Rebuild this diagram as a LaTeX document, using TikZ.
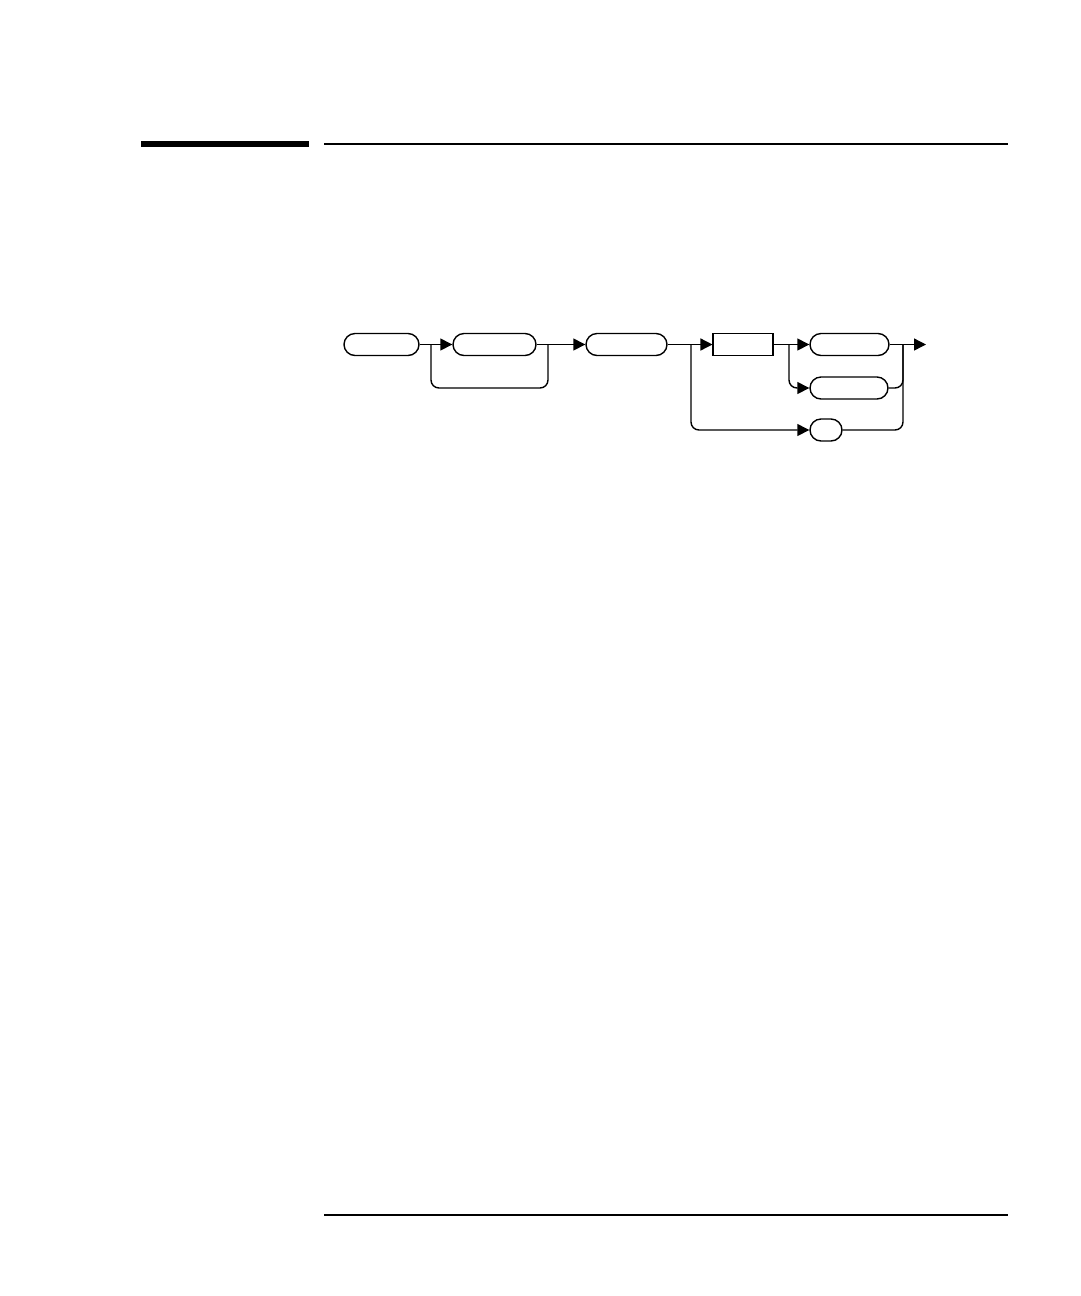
\documentclass[tikz,border=0pt]{standalone}
\usetikzlibrary{arrows.meta}
\tikzset{
  term/.style={draw, rounded corners=0.22cm, minimum height=0.44cm, inner sep=0pt, line width=0.8pt},
  nonterm/.style={draw, minimum height=0.44cm, inner sep=0pt, line width=0.6pt},
  path/.style={line width=0.8pt, rounded corners=0.16cm},
  go/.style={path, -{Triangle[length=0.24cm,width=0.24cm]}}
}
\begin{document}
\begin{tikzpicture}[x=0.02cm,y=-0.02cm]
\useasboundingbox (0,0) rectangle (1080,1296);
% page rules
\fill (141,141) rectangle (309,147);
\draw[line width=0.04cm] (324,144)--(1008,144);
\draw[line width=0.04cm] (324,1214.5)--(1008,1214.5);
% syntax boxes
\node[term, minimum width=1.5cm] (cmd) at (381.5,344.5) {};
\node[term, minimum width=1.66cm] (sep) at (494.5,344.5) {};
\node[term, minimum width=1.62cm] (key) at (626.5,344.5) {};
\node[nonterm, minimum width=1.2cm] (val) at (743,344.5) {};
\node[term, minimum width=1.58cm] (unitA) at (849.5,344.5) {};
\node[term, minimum width=1.56cm] (unitB) at (849,388) {};
\node[term, minimum width=0.64cm] (query) at (826,430) {};
% junctions
\coordinate (j1) at (431,344.5);
\coordinate (j2) at (548,344.5);
\coordinate (j3) at (691,344.5);
\coordinate (j4) at (789,344.5);
\coordinate (j5) at (903,344.5);
\coordinate (out) at (926,344.5);
% connectors
\draw[go] (cmd.east)--(sep.west);
\draw[path] (j1)--++(0,43.5)-|(j2);
\draw[go] (sep.east)--(key.west);
\draw[go] (key.east)--(val.west);
\draw[go] (j3)|-(query.west);
\draw[go] (val.east)--(unitA.west);
\draw[go] (j4)|-(unitB.west);
\draw[go] (unitA.east)--(out);
\draw[path] (unitB.east)-|(j5);
\draw[path] (query.east)-|(j5);
\end{tikzpicture}
\end{document}
